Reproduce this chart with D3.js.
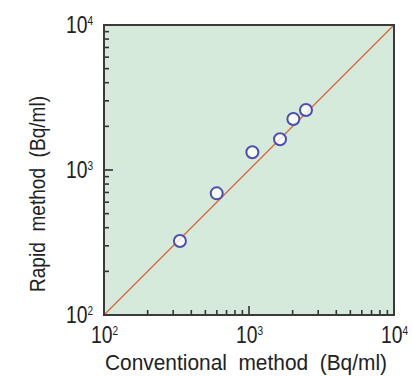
<!DOCTYPE html>
<html>
<head>
<meta charset="utf-8">
<script src="https://cdn.jsdelivr.net/npm/d3@7"></script>
<style>
body{margin:0;background:#fff;}
text{font-family:"Liberation Sans",Arial,sans-serif;fill:#222;}
</style>
</head>
<body>
<div class="viz"></div>
<script>
// conventional vs rapid (Bq/ml)
const conventional=[334,599,1055,1637,2023,2472];
const rapid=[324,690,1325,1630,2249,2594];
const tickExps=[2,3,4];
const domain=[100,10000];

const width=412;
const height=376;
const margin={left:104,top:25,right:18,bottom:61};

const svg=d3.select('.viz').append('svg')
	.attr('width',width)
	.attr('height',height)

const x=d3.scaleLog().domain(domain).range([margin.left,width-margin.right])
const y=d3.scaleLog().domain(domain).range([height-margin.bottom,margin.top])

svg.append('rect')
	.attr('x',x(domain[0]))
	.attr('y',y(domain[1]))
	.attr('width',x(domain[1])-x(domain[0]))
	.attr('height',y(domain[0])-y(domain[1]))
	.attr('fill','#d6eadb')

// ticks inside the frame
const allTicks=x.ticks().filter(d=>d>domain[0]&&d<domain[1]);
const isMajor=d=>Math.abs(Math.log10(d)-Math.round(Math.log10(d)))<1e-9;

svg.selectAll('.xtick')
	.data(allTicks)
	.join('line')
	.attr('class','xtick')
	.attr('x1',d=>x(d)).attr('x2',d=>x(d))
	.attr('y1',y(domain[0]))
	.attr('y2',d=>y(domain[0])-(isMajor(d)?9:5))
	.attr('stroke','#333').attr('stroke-width',1.6)

svg.selectAll('.ytick')
	.data(allTicks)
	.join('line')
	.attr('class','ytick')
	.attr('y1',d=>y(d)).attr('y2',d=>y(d))
	.attr('x1',x(domain[0]))
	.attr('x2',d=>x(domain[0])+(isMajor(d)?9:5))
	.attr('stroke','#333').attr('stroke-width',1.6)

// 1:1 line
svg.append('line')
	.attr('x1',x(domain[0])).attr('y1',y(domain[0]))
	.attr('x2',x(domain[1])).attr('y2',y(domain[1]))
	.attr('stroke','#d9704c').attr('stroke-width',1.6)

const pts=conventional.map((c,i)=>({c:c,r:rapid[i]}));
svg.selectAll('circle')
	.data(pts)
	.join('circle')
	.attr('cx',d=>x(d.c))
	.attr('cy',d=>y(d.r))
	.attr('r',6)
	.attr('fill','#ffffff')
	.attr('fill-opacity',0.8)
	.attr('stroke','#4b4fae')
	.attr('stroke-width',2)

svg.append('rect')
	.attr('x',x(domain[0]))
	.attr('y',y(domain[1]))
	.attr('width',x(domain[1])-x(domain[0]))
	.attr('height',y(domain[0])-y(domain[1]))
	.attr('fill','none')
	.attr('stroke','#3a3a3a')
	.attr('stroke-width',2)

// tick labels 10^n, narrow face
function powLabel(sel){
	sel.append('tspan').text('10').attr('font-size',23)
	sel.append('tspan').text(d=>d).attr('font-size',12).attr('dy',-8.5)
}

svg.selectAll('.xlab')
	.data(tickExps)
	.join('text')
	.attr('class','xlab')
	.attr('transform',d=>`translate(${x(Math.pow(10,d))+0.5},${y(domain[0])+28}) scale(0.84,1)`)
	.attr('text-anchor','middle')
	.call(powLabel)

svg.selectAll('.ylab')
	.data(tickExps)
	.join('text')
	.attr('class','ylab')
	.attr('transform',d=>`translate(${x(domain[0])-11},${y(Math.pow(10,d))+8}) scale(0.84,1)`)
	.attr('text-anchor','end')
	.call(powLabel)

svg.append('text')
	.attr('x',246)
	.attr('y',370)
	.attr('text-anchor','middle')
	.attr('font-size',22)
	.attr('textLength',282)
	.attr('lengthAdjust','spacingAndGlyphs')
	.attr('xml:space','preserve')
	.text('Conventional  method  (Bq/ml)')

svg.append('text')
	.attr('transform','translate(45,194) rotate(-90)')
	.attr('text-anchor','middle')
	.attr('font-size',22)
	.attr('textLength',196)
	.attr('lengthAdjust','spacingAndGlyphs')
	.attr('xml:space','preserve')
	.text('Rapid  method  (Bq/ml)')
</script>
</body>
</html>
